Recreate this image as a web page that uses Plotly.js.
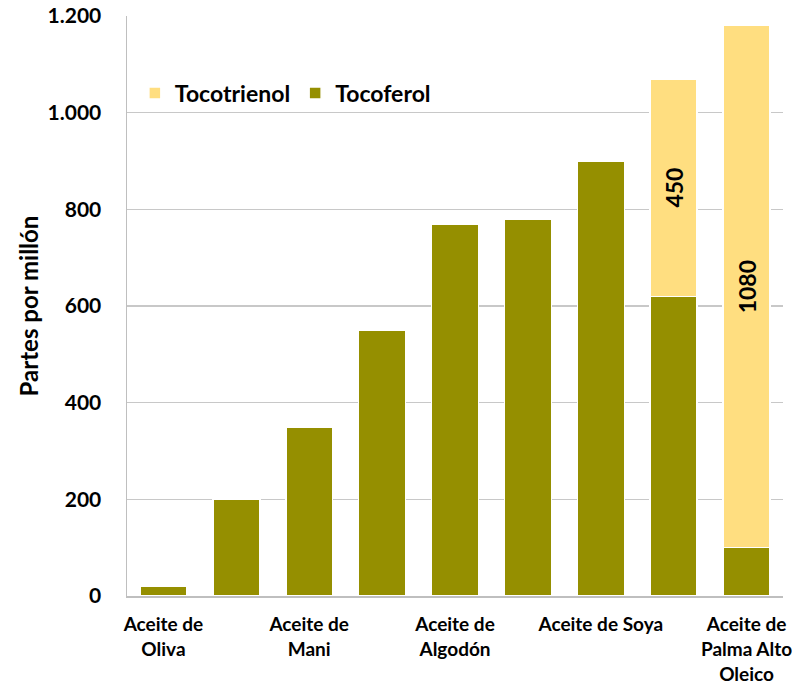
<!DOCTYPE html>
<html>
<head>
<meta charset="utf-8">
<script src="https://cdn.plot.ly/plotly-3.0.1.min.js"></script>
<style>
  html, body { margin: 0; padding: 0; background: #fff; }
  #chart { width: 807px; height: 684px; }
</style>
</head>
<body>
<div id="chart"></div>
<script>
// Bar positions (one per oil), and the labels shown under every other bar
const positions = [0, 1, 2, 3, 4, 5, 6, 7, 8];
const tickPositions = [0, 2, 4, 6, 8];
const tickLabels = [
  'Aceite de<br>Oliva',
  'Aceite de<br>Mani',
  'Aceite de<br>Algodón',
  'Aceite de Soya',
  'Aceite de<br>Palma Alto<br>Oleico'
];

// Contents in partes por millón
const tocoferol   = [20, 200, 350, 550, 770, 780, 900, 620, 100];
const tocotrienol = [null, null, null, null, null, null, null, 450, 1080];

const FONT = 'Lato, "Open Sans", sans-serif';
const OLIVE = '#958F00';
const YELLOW = '#FFDE80';

const traces = [
  {
    type: 'bar',
    name: 'Tocoferol',
    x: positions,
    y: tocoferol,
    marker: { color: OLIVE, line: { color: '#ffffff', width: 1.5 } },
    legendrank: 2,
    hoverinfo: 'skip'
  },
  {
    type: 'bar',
    name: 'Tocotrienol',
    x: positions,
    y: tocotrienol,
    marker: { color: YELLOW, line: { color: '#ffffff', width: 1.5 } },
    text: tocotrienol.map(v => v == null ? '' : String(v)),
    texttemplate: '%{text}',
    textposition: 'inside',
    insidetextanchor: 'middle',
    textangle: -90,
    constraintext: 'none',
    textfont: { family: FONT, size: 23, color: '#000', weight: 'bold' },
    legendrank: 1,
    hoverinfo: 'skip'
  }
];

const layout = {
  width: 807,
  height: 684,
  margin: { l: 127, r: 24, t: 16, b: 88 },
  paper_bgcolor: '#ffffff',
  plot_bgcolor: '#ffffff',
  barmode: 'stack',
  bargap: 0.356,
  separators: ',.',
  font: { family: FONT, color: '#000', weight: 700 },
  showlegend: true,
  legend: {
    orientation: 'h',
    traceorder: 'normal',
    x: 0.012,
    y: 0.867,
    xanchor: 'left',
    yanchor: 'middle',
    bgcolor: 'rgba(255,255,255,0)',
    font: { family: FONT, size: 23, color: '#000', weight: 700 },
    itemwidth: 30,
    tracegroupgap: 0
  },
  xaxis: {
    range: [-0.5, 8.5],
    tickmode: 'array',
    tickvals: tickPositions,
    ticktext: tickLabels,
    showgrid: false,
    zeroline: false,
    showline: true,
    linecolor: '#BFBFBF',
    linewidth: 1.5,
    ticks: 'outside',
    ticklen: 11,
    tickcolor: 'rgba(0,0,0,0)',
    tickfont: { family: FONT, size: 19, color: '#000', weight: 700 },
    fixedrange: true
  },
  yaxis: {
    range: [0, 1200],
    tickmode: 'array',
    tickvals: [0, 200, 400, 600, 800, 1000, 1200],
    tickformat: ',d',
    showgrid: true,
    gridcolor: '#C8C8C8',
    gridwidth: 1.5,
    zeroline: false,
    showline: true,
    linecolor: '#BFBFBF',
    linewidth: 1.5,
    ticks: 'outside',
    ticklen: 20,
    tickcolor: 'rgba(0,0,0,0)',
    tickfont: { family: FONT, size: 21, color: '#000', weight: 700 },
    title: {
      text: 'Partes por millón',
      font: { family: FONT, size: 24, color: '#000', weight: 700 },
      standoff: 2
    },
    automargin: false,
    fixedrange: true
  }
};

Plotly.newPlot('chart', traces, layout, { displayModeBar: false, staticPlot: true });
</script>
</body>
</html>
